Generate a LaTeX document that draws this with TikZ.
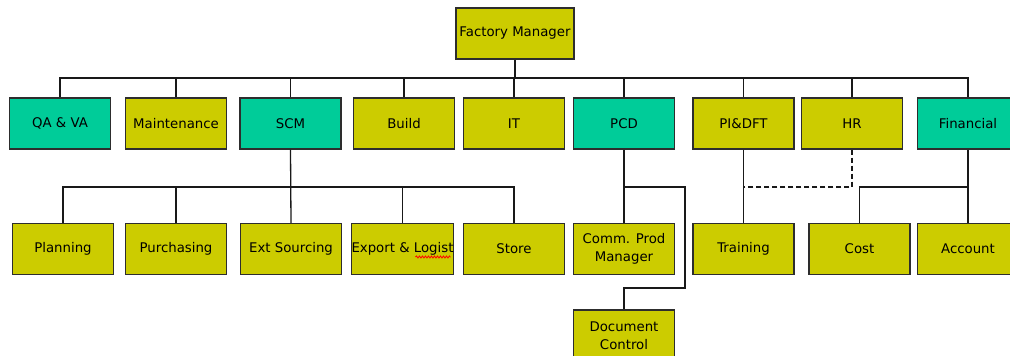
\documentclass[tikz,border=0pt]{standalone}
\usepackage{fontspec}
\setmainfont{DejaVu Sans}
\usetikzlibrary{decorations.pathmorphing,calc}
\definecolor{olive}{RGB}{204,204,0}
\definecolor{tealg}{RGB}{0,204,153}
\definecolor{edge}{RGB}{45,45,45}
\tikzset{
  unit/.style={rectangle, draw=edge, line width=1.2pt, minimum width=101pt, minimum height=51pt,
    inner sep=0pt, align=center, font=\fontsize{13.3}{18}\selectfont},
  ybox/.style={unit, fill=olive},
  tbox/.style={unit, fill=tealg},
  link/.style={draw=black!90, line width=1.3pt},
  dlink/.style={link, dash pattern=on 5pt off 3pt}
}
\begin{document}
\begin{tikzpicture}[x=1pt,y=-1pt]
\useasboundingbox[fill=white] (0,0) rectangle (1010,356);
% top
\node[ybox, minimum width=118pt] (fm) at (515,33.5) {Factory Manager};
% row 1
\node[tbox] (qa) at (60,123.5) {QA \& VA};
\node[ybox] (maint) at (176,123.5) {Maintenance};
\node[tbox] (scm) at (290.5,123.5) {SCM};
\node[ybox] (build) at (404,123.5) {Build};
\node[ybox] (it) at (514,123.5) {IT};
\node[tbox] (pcd) at (624,123.5) {PCD};
\node[ybox] (pi) at (743.5,123.5) {PI\&DFT};
\node[ybox] (hr) at (852,123.5) {HR};
\node[tbox] (fin) at (968,123.5) {Financial};
% row 2
\node[ybox] (plan) at (63,249) {Planning};
\node[ybox] (purch) at (176,249) {Purchasing};
\node[ybox] (ext) at (291,249) {Ext Sourcing};
\node[ybox] (exp) at (402.5,249) {Export \& Logist};
\node[ybox] (store) at (514,249) {Store};
\node[ybox] (comm) at (624,249) {Comm. Prod\\Manager};
\node[ybox] (train) at (743.5,249) {Training};
\node[ybox] (cost) at (859.5,249) {Cost};
\node[ybox] (acc) at (968,249) {Account};
% row 3
\node[ybox, minimum height=52pt] (doc) at (624,336) {Document\\Control};
% helper coordinates
\coordinate (bus) at (0,78);
\coordinate (bus2) at (0,187);
\coordinate (jog) at (685,0);
\coordinate (low) at (0,288);
% top bus
\draw[link] (fm.south) -- (fm.south |- bus);
\draw[link] (qa.north) -- (qa.north |- bus) -- (fin.north |- bus) -- (fin.north);
\foreach \n in {maint,scm,build,it,pcd,pi,hr}
  \draw[link] (\n.north) -- (\n.north |- bus);
% SCM
\draw[link] (scm.south) -- (ext.north);
\draw[link] (plan.north) -- (plan.north |- bus2) -- (store.north |- bus2) -- (store.north);
\draw[link] (purch.north) -- (purch.north |- bus2);
\draw[link] (exp.north) -- (exp.north |- bus2);
% PCD
\draw[link] (pcd.south) -- (comm.north);
\draw[link] (pcd.south |- bus2) -- (jog |- bus2) -- (jog |- low) -- (doc.north |- low) -- (doc.north);
% right side
\draw[link] (pi.south) -- (train.north);
\draw[dlink] (hr.south) -- (hr.south |- bus2) -- (pi.south |- bus2);
\draw[link] (fin.south) -- (acc.north);
\draw[link] (cost.north) -- (cost.north |- bus2) -- (fin.south |- bus2);
% spell-check squiggle
\coordinate (sqa) at ($(exp.center)+(13,8)$);
\coordinate (sqb) at ($(exp.center)+(48,8)$);
\draw[red, line width=0.8pt, decorate, decoration={snake, amplitude=1pt, segment length=3pt}]
  (sqa) -- (sqb);
\end{tikzpicture}
\end{document}
